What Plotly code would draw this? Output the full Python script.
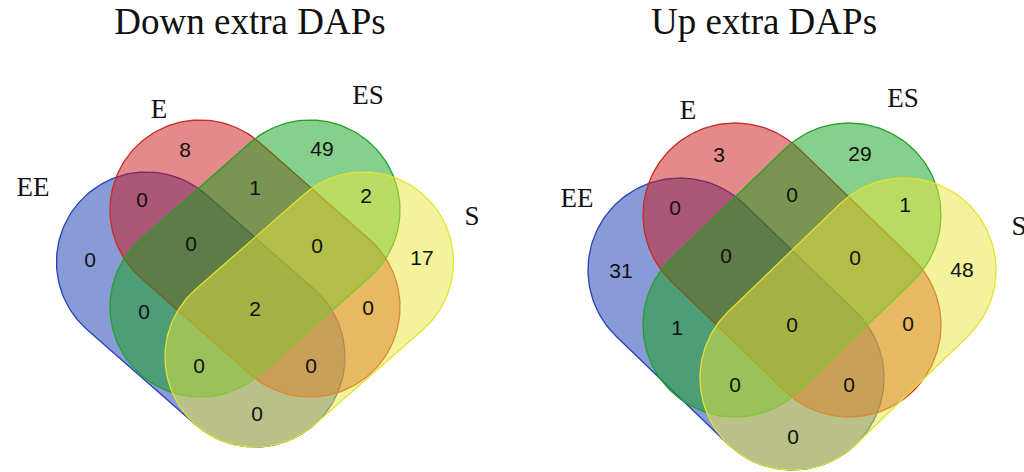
import numpy as np
import plotly.graph_objects as go

# ---------------- data ----------------
SET_NAMES = ["EE", "E", "ES", "S"]
REGIONS = ["EE", "E", "ES", "S",
           "EE&E", "E&ES", "ES&S",
           "EE&E&ES", "E&ES&S", "EE&E&ES&S",
           "EE&ES", "E&S",
           "EE&ES&S", "EE&E&S", "EE&S"]
DOWN_COUNTS = [0, 8, 49, 17, 0, 1, 2, 0, 0, 2, 0, 0, 0, 0, 0]
UP_COUNTS = [31, 3, 29, 48, 0, 0, 1, 0, 0, 0, 1, 0, 0, 0, 0]
TITLES = ["Down extra DAPs", "Up extra DAPs"]

# ---------------- layout / styling ----------------
FILL_BASE = {"EE": (19, 55, 173), "E": (203, 21, 21), "ES": (15, 159, 25), "S": (233, 231, 59)}
LINE_COL = {"EE": "rgb(40,65,185)", "E": "rgb(205,40,40)", "ES": "rgb(35,160,40)", "S": "rgb(228,226,50)"}

DIAGRAMS = [
    dict(cx=255, cy=210, din=55, dout=108.5, dyo=52, dyl=97, dyb=147, r=90,
         title_xy=(250, 25),
         set_lab={"EE": (-222, -21), "E": (-96, -99), "ES": (113, -113), "S": (217, 8)},
         reg={"EE": (-165, 52), "E": (-70, -58), "ES": (67, -59), "S": (167, 50),
              "EE&E": (-113, -8), "E&ES": (0, -20), "ES&S": (111, -12),
              "EE&E&ES": (-64, 36), "E&ES&S": (62, 38), "EE&E&ES&S": (0, 101),
              "EE&ES": (-111, 104), "E&S": (113, 100),
              "EE&ES&S": (-56, 158), "EE&E&S": (56, 158), "EE&S": (2, 206)}),
    dict(cx=792, cy=215, din=57, dout=112, dyo=55, dyl=110, dyb=163, r=92,
         title_xy=(764, 25),
         set_lab={"EE": (-215, -15), "E": (-104, -103), "ES": (111, -115), "S": (227, 13)},
         reg={"EE": (-171, 58), "E": (-73, -58), "ES": (68, -59), "S": (170, 57),
              "EE&E": (-117, -5), "E&ES": (0, -18), "ES&S": (113, -8),
              "EE&E&ES": (-66, 43), "E&ES&S": (63, 45), "EE&E&ES&S": (0, 112),
              "EE&ES": (-115, 115), "E&S": (116, 111),
              "EE&ES&S": (-57, 172), "EE&E&S": (57, 172), "EE&S": (1, 224)}),
]


def stadium(A, B, r, n=80):
    ax, ay = A
    bx, by = B
    phi = np.arctan2(by - ay, bx - ax)
    t1 = np.linspace(phi - np.pi / 2, phi + np.pi / 2, n)
    t2 = np.linspace(phi + np.pi / 2, phi + 3 * np.pi / 2, n)
    xs = np.concatenate([bx + r * np.cos(t1), ax + r * np.cos(t2), [bx + r * np.cos(t1[0])]])
    ys = np.concatenate([by + r * np.sin(t1), ay + r * np.sin(t2), [by + r * np.sin(t1[0])]])
    return xs, ys


def shape_ends(g, name):
    cx, cy = g["cx"], g["cy"]
    if name == "EE":
        return (cx - g["dout"], cy + g["dyo"]), (cx, cy + g["dyb"])
    if name == "E":
        return (cx - g["din"], cy), (cx + g["din"], cy + g["dyl"])
    if name == "ES":
        return (cx + g["din"], cy), (cx - g["din"], cy + g["dyl"])
    return (cx + g["dout"], cy + g["dyo"]), (cx, cy + g["dyb"])


fig = go.Figure()
serif = "Liberation Serif, Times New Roman, serif"
sans = "Liberation Sans, Arial, sans-serif"

for g, counts, title in zip(DIAGRAMS, [DOWN_COUNTS, UP_COUNTS], TITLES):
    for name in SET_NAMES:
        A, B = shape_ends(g, name)
        xs, ys = stadium(A, B, g["r"])
        rr, gg, bb = FILL_BASE[name]
        fig.add_trace(go.Scatter(
            x=xs, y=ys, mode="lines", fill="toself",
            fillcolor=f"rgba({rr},{gg},{bb},0.5)",
            line=dict(color=LINE_COL[name], width=1.3),
            hoverinfo="skip", showlegend=False))
    # region counts
    fig.add_trace(go.Scatter(
        x=[g["cx"] + g["reg"][k][0] for k in REGIONS],
        y=[g["cy"] + g["reg"][k][1] for k in REGIONS],
        text=[str(c) for c in counts], mode="text",
        textfont=dict(family=sans, size=21, color="#111111"),
        hoverinfo="skip", showlegend=False, cliponaxis=False))
    # set labels
    fig.add_trace(go.Scatter(
        x=[g["cx"] + g["set_lab"][k][0] for k in SET_NAMES],
        y=[g["cy"] + g["set_lab"][k][1] for k in SET_NAMES],
        text=SET_NAMES, mode="text",
        textfont=dict(family=serif, size=27, color="#111111"),
        hoverinfo="skip", showlegend=False, cliponaxis=False))
    # title
    fig.add_trace(go.Scatter(
        x=[g["title_xy"][0]], y=[g["title_xy"][1]],
        text=[title], mode="text",
        textfont=dict(family=serif, size=37, color="#111111"),
        hoverinfo="skip", showlegend=False, cliponaxis=False))

fig.update_layout(
    width=1024, height=472,
    margin=dict(l=0, r=0, t=0, b=0),
    paper_bgcolor="white", plot_bgcolor="white",
    xaxis=dict(range=[0, 1024], visible=False, fixedrange=True),
    yaxis=dict(range=[472, 0], visible=False, fixedrange=True),
)

fig.write_html("out.html",
               config={"displayModeBar": False},
               post_script="document.body.style.margin='0';document.body.style.overflow='hidden';")
